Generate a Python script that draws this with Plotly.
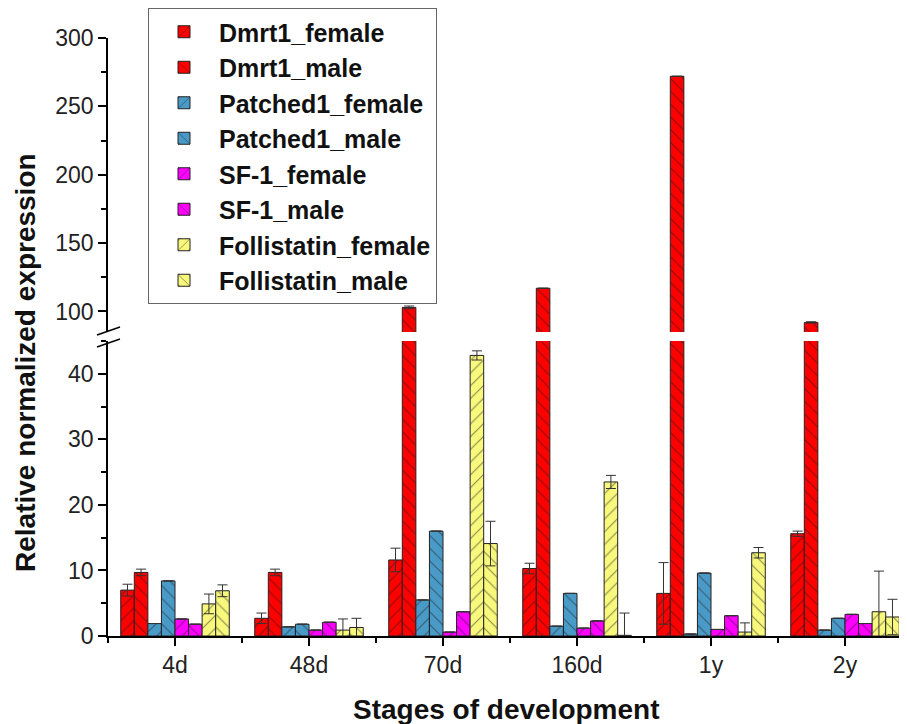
import plotly.graph_objects as go

stages = ["4d", "48d", "70d", "160d", "1y", "2y"]

series_names = ["Dmrt1_female", "Dmrt1_male", "Patched1_female", "Patched1_male",
                "SF-1_female", "SF-1_male", "Follistatin_female", "Follistatin_male"]

dmrt1_female = [7.0, 2.7, 11.6, 10.3, 6.5, 15.6]
dmrt1_male = [9.7, 9.7, 103, 117, 272, 92]
patched1_female = [1.9, 1.4, 5.5, 1.5, 0.3, 0.9]
patched1_male = [8.4, 1.8, 16.0, 6.5, 9.6, 2.7]
sf1_female = [2.6, 0.9, 0.6, 1.2, 1.0, 3.3]
sf1_male = [1.8, 2.1, 3.7, 2.3, 3.1, 1.9]
follistatin_female = [4.9, 0.9, 42.8, 23.5, 0.6, 3.7]
follistatin_male = [6.9, 1.3, 14.1, 0.1, 12.7, 2.9]

dmrt1_female_err = [0.9, 0.8, 1.8, 0.8, 4.7, 0.4]
dmrt1_male_err = [0.5, 0.5, 1.0, 0.0, 0.0, 0.5]
patched1_female_err = [0, 0, 0, 0, 0, 0]
patched1_male_err = [0, 0, 0, 0, 0, 0]
sf1_female_err = [0, 0, 0, 0, 0, 0]
sf1_male_err = [0, 0, 0, 0, 0, 0]
follistatin_female_err = [1.5, 1.7, 0.7, 1.0, 1.4, 6.2]
follistatin_male_err = [0.9, 1.4, 3.4, 3.4, 0.8, 2.7]

values = [dmrt1_female, dmrt1_male, patched1_female, patched1_male,
          sf1_female, sf1_male, follistatin_female, follistatin_male]
errors = [dmrt1_female_err, dmrt1_male_err, patched1_female_err, patched1_male_err,
          sf1_female_err, sf1_male_err, follistatin_female_err, follistatin_male_err]
colors = ["#FF0000", "#FF0000", "#4A9AC8", "#4A9AC8",
          "#FF00FF", "#FF00FF", "#F8F87C", "#F8F87C"]
patterns = ["/", "\\", "/", "\\", "/", "\\", "/", "\\"]

xpos = list(range(len(stages)))

fig = go.Figure()
for axis_i, (xa, ya) in enumerate([("x", "y"), ("x2", "y2")]):
    for i, name in enumerate(series_names):
        fig.add_trace(go.Bar(
            x=xpos, y=values[i], name=name,
            xaxis=xa, yaxis=ya,
            offsetgroup=str(i),
            showlegend=(axis_i == 1),
            legendrank=i,
            marker=dict(color=colors[i],
                        line=dict(color="#222222", width=1),
                        pattern=dict(shape=patterns[i], fgcolor="#1a1a1a",
                                     size=9, solidity=0.12)),
            error_y=dict(type="data", array=errors[i], visible=True,
                         color="#333333", thickness=1, width=5),
        ))

FONT = "Liberation Sans, Arial, sans-serif"
# page has an ~8px body margin: figure coords = screen coords - 8
OFF = 8
L, T, B = 108 - OFF, 38 - OFF, 724 - (636 - OFF)
PW, PH = 907 - L, 598
lower_top = (636 - 341) / PH
upper_bot = (636 - 332) / PH
x_hi = -0.5 + PW / 134.0

axis_common = dict(showline=True, linecolor="black", linewidth=1.5,
                   ticks="outside", ticklen=8, tickwidth=1.5, tickcolor="black",
                   showgrid=False, zeroline=False, automargin=False,
                   tickfont=dict(family=FONT, size=23, color="#222"))

def px(xs):
    return (xs - 108) / PW

def py(ys):
    return (636 - ys) / PH

fig.update_layout(
    width=907, height=724,
    margin=dict(l=L, r=0, t=T, b=B, autoexpand=False),
    paper_bgcolor="white", plot_bgcolor="white",
    barmode="group", bargap=0.19, bargroupgap=0,
    font=dict(family=FONT, color="#111"),
    xaxis=dict(domain=[0, 1], anchor="y", range=[-0.5, x_hi],
               tickvals=xpos, ticktext=stages,
               minor=dict(tick0=0.5, dtick=1, ticks="outside", ticklen=5,
                          tickwidth=1.5, tickcolor="black"),
               **axis_common),
    xaxis2=dict(domain=[0, 1], anchor="y2", matches="x", visible=False),
    yaxis=dict(domain=[0, lower_top], range=[0, 45], tickvals=[0, 10, 20, 30, 40],
               minor=dict(dtick=5, ticks="outside", ticklen=5, tickwidth=1.5,
                          tickcolor="black"),
               **axis_common),
    yaxis2=dict(domain=[upper_bot, 1], range=[85, 300],
                tickvals=[100, 150, 200, 250, 300],
                minor=dict(tick0=0, dtick=25, ticks="outside", ticklen=5,
                           tickwidth=1.5, tickcolor="black"),
                **axis_common),
    legend=dict(xref="container", yref="container",
                x=(148 - OFF) / 907, y=1.0, xanchor="left", yanchor="top",
                bgcolor="white", bordercolor="#666", borderwidth=1,
                font=dict(family=FONT, size=25, color="#111", weight="bold"),
                traceorder="normal", itemwidth=60, tracegroupgap=0),
    annotations=[
        dict(text="<b>Relative normalized expression</b>", textangle=-90,
             xref="paper", yref="paper", x=px(25), y=py(363),
             xanchor="center", yanchor="middle", showarrow=False,
             font=dict(family=FONT, size=28, color="#111")),
        dict(text="<b>Stages of development</b>",
             xref="paper", yref="paper", x=px(506), y=py(709),
             xanchor="center", yanchor="middle", showarrow=False,
             font=dict(family=FONT, size=28, color="#111")),
    ],
    shapes=[
        dict(type="line", xref="paper", yref="paper",
             x0=px(97), y0=py(335), x1=px(120), y1=py(327),
             line=dict(color="black", width=1.5)),
        dict(type="line", xref="paper", yref="paper",
             x0=px(97), y0=py(347), x1=px(120), y1=py(339),
             line=dict(color="black", width=1.5)),
    ],
)

fig.write_html("out.html")
